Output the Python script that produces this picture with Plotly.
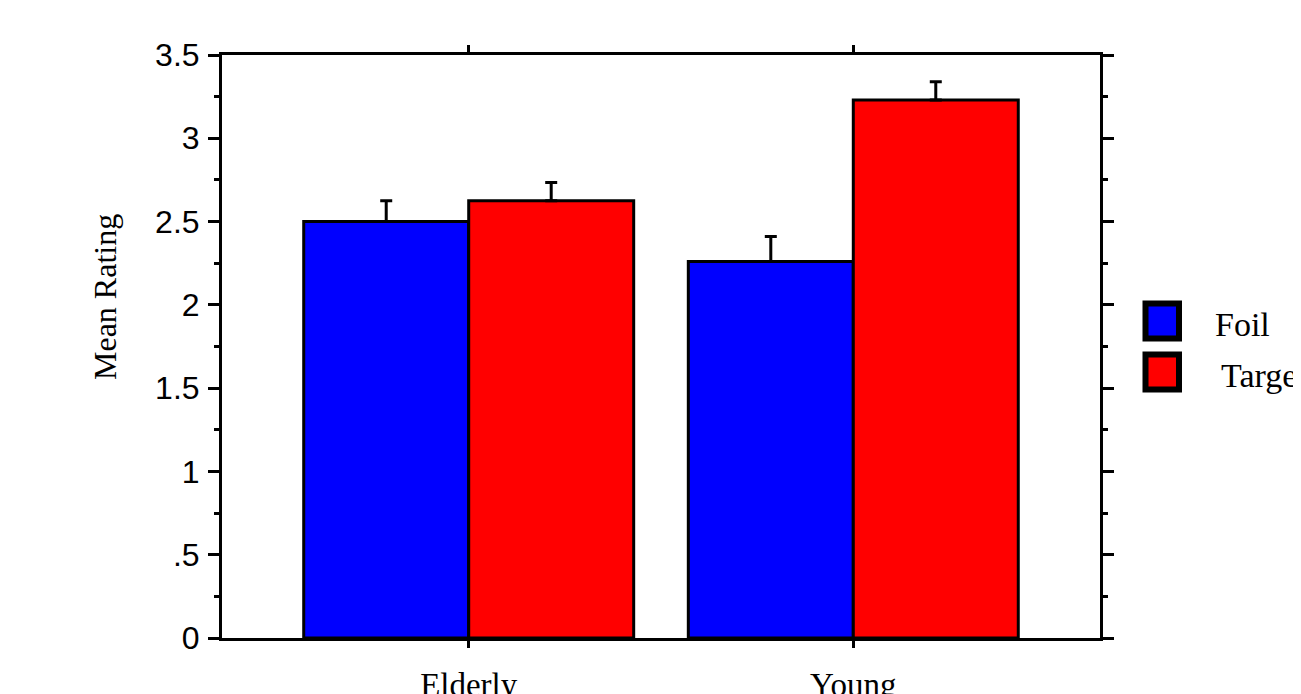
import plotly.graph_objects as go

categories = ["Elderly", "Young"]
foil_values = [2.50, 2.26]
foil_errors = [0.125, 0.15]
target_values = [2.625, 3.23]
target_errors = [0.11, 0.11]
ytick_vals = [0, 0.5, 1, 1.5, 2, 2.5, 3, 3.5]
ytick_text = ["0", ".5", "1", "1.5", "2", "2.5", "3", "3.5"]
series_names = ["Foil", "Target"]
series_colors = ["#0000FF", "#FF0000"]

OFF = 8  # page body margin offset
W, H = 1301 - OFF, 694 - OFF
# plot area in reference (screen) pixels
L, R, T, B = 222, 1100, 55, 638

fig = go.Figure()
for name, vals, errs, col in [
    (series_names[0], foil_values, foil_errors, series_colors[0]),
    (series_names[1], target_values, target_errors, series_colors[1]),
]:
    fig.add_trace(go.Bar(
        x=categories, y=vals, name=name,
        marker=dict(color=col, line=dict(color="black", width=3)),
        error_y=dict(type="data", symmetric=False, array=errs, arrayminus=[0] * len(errs),
                     color="black", thickness=3, width=6),
        showlegend=False,
    ))

def px2x(p):
    return (p - L) / (R - L)

def py2y(p):
    return (B - p) / (B - T)

shapes = []
annotations = []
legend_rows = [(321, 1213), (372, 1219)]
for (cy, tx), name, col in zip(legend_rows, series_names, series_colors):
    shapes.append(dict(type="rect", xref="paper", yref="paper",
                       x0=px2x(1145.5), x1=px2x(1179), y0=py2y(cy - 17.5), y1=py2y(cy + 17.5),
                       line=dict(color="black", width=6), fillcolor=col, layer="above"))
    annotations.append(dict(text=name, xref="paper", yref="paper", x=px2x(tx), y=py2y(cy + 3),
                            xanchor="left", yanchor="middle", showarrow=False,
                            font=dict(family="Liberation Serif", size=34, color="black")))

annotations.append(dict(text="Mean Rating", xref="paper", yref="paper", x=px2x(105), y=py2y(297),
                        xanchor="center", yanchor="middle", textangle=-90, showarrow=False,
                        font=dict(family="Liberation Serif", size=32, color="black")))

fig.update_layout(
    width=W, height=H,
    margin=dict(l=L - OFF, r=W - (R - OFF), t=T - OFF, b=H - (B - OFF), pad=0, autoexpand=False),
    plot_bgcolor="white", paper_bgcolor="white",
    barmode="group", bargap=0.142, bargroupgap=0,
    shapes=shapes, annotations=annotations,
    showlegend=False,
)
fig.update_xaxes(
    type="category", range=[-0.6415, 1.6415], automargin=False,
    showline=True, linecolor="black", linewidth=3, mirror="ticks",
    ticks="outside", ticklen=7, tickwidth=3, tickcolor="black",
    showgrid=False, zeroline=False,
    tickfont=dict(family="Liberation Serif", size=33, color="black"),
    ticklabelstandoff=8,
)
fig.update_yaxes(
    range=[0, 3.5], tickvals=ytick_vals, ticktext=ytick_text, automargin=False,
    showline=True, linecolor="black", linewidth=3, mirror="ticks",
    ticks="outside", ticklen=11, tickwidth=3, tickcolor="black",
    minor=dict(dtick=0.25, ticks="outside", ticklen=5, tickwidth=3, tickcolor="black", showgrid=False),
    showgrid=False, zeroline=False,
    tickfont=dict(family="Liberation Sans", size=32, color="black"),
    ticklabelstandoff=2,
)
fig.write_html("out.html")
